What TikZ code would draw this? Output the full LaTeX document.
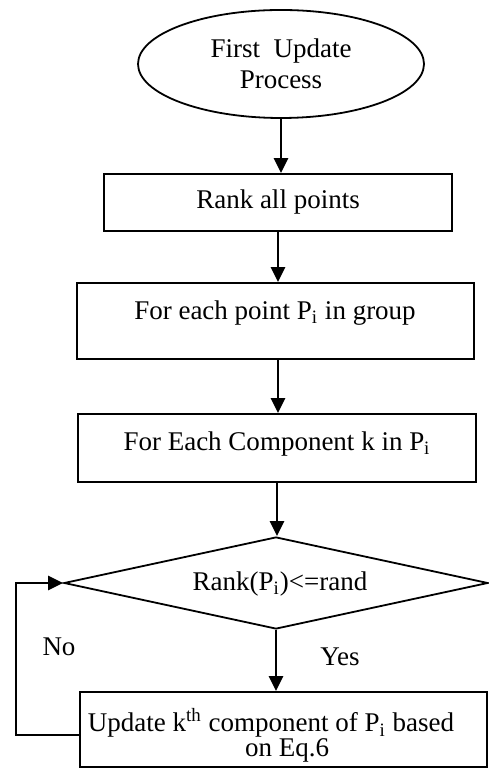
\documentclass[tikz,border=0pt]{standalone}
\usepackage{fontspec}
\setmainfont{Liberation Serif}
\usetikzlibrary{shapes.geometric,arrows.meta}
\begin{document}
\begin{tikzpicture}[x=0.5pt,y=-0.5pt,
  every node/.style={font=\fontsize{13.5}{15.5}\selectfont},
  box/.style={draw,line width=0.9pt,rectangle,inner sep=0pt},
  txt/.style={inner sep=0pt,align=center},
  arr/.style={line width=1.3pt,-{Triangle[width=7pt,length=7.5pt]}}]
\useasboundingbox (0,0) rectangle (488,779);
\node[draw,line width=0.9pt,ellipse,minimum width=143pt,minimum height=54pt,align=center,inner sep=0pt] (e) at (281,64) {First\ \ Update\\Process};
\node[box,minimum width=174pt,minimum height=28.5pt] (r1) at (278,202.5) {};
\node[txt] (t1) at (278,202) {Rank all points};
\node[box,minimum width=198.5pt,minimum height=38pt] (r2) at (275.5,321) {};
\node[txt] (t2) at (275,313) {For each point P\textsubscript{i} in group};
\node[box,minimum width=199pt,minimum height=34pt] (r3) at (277,448) {};
\node[txt] (t3) at (277,444) {For Each Component k in P\textsubscript{i}};
\node[draw,line width=0.9pt,diamond,minimum width=212pt,minimum height=46pt,inner sep=0pt,aspect=4.6] (d) at (276,583) {};
\node[txt] (t4) at (280,584) {Rank(P\textsubscript{i})<=rand};
\node[box,minimum width=203.5pt,minimum height=37.5pt] (r4) at (283.5,729.5) {};
\node[txt] (t5a) at (271,723) {Update k\textsuperscript{th} component of P\textsubscript{i} based};
\node[txt] (t5b) at (287,750) {on Eq.6};
\node[txt] (no) at (59,647) {No};
\node[txt] (yes) at (340,657) {Yes};
\coordinate (lp) at (16,583);
\draw[arr] (e.south) -- (e.south |- r1.north);
\draw[arr] (r1.south) -- (r1.south |- r2.north);
\draw[arr] ([xshift=1.25pt]r2.south) -- ([xshift=1.25pt]r2.south |- r3.north);
\draw[arr] (r3.south) -- (r3.south |- d.north);
\draw[arr] (d.south) -- (d.south |- r4.north);
\draw[arr] ([yshift=-2.75pt]r4.west) -| (lp) -- (d.west);
\end{tikzpicture}
\end{document}
